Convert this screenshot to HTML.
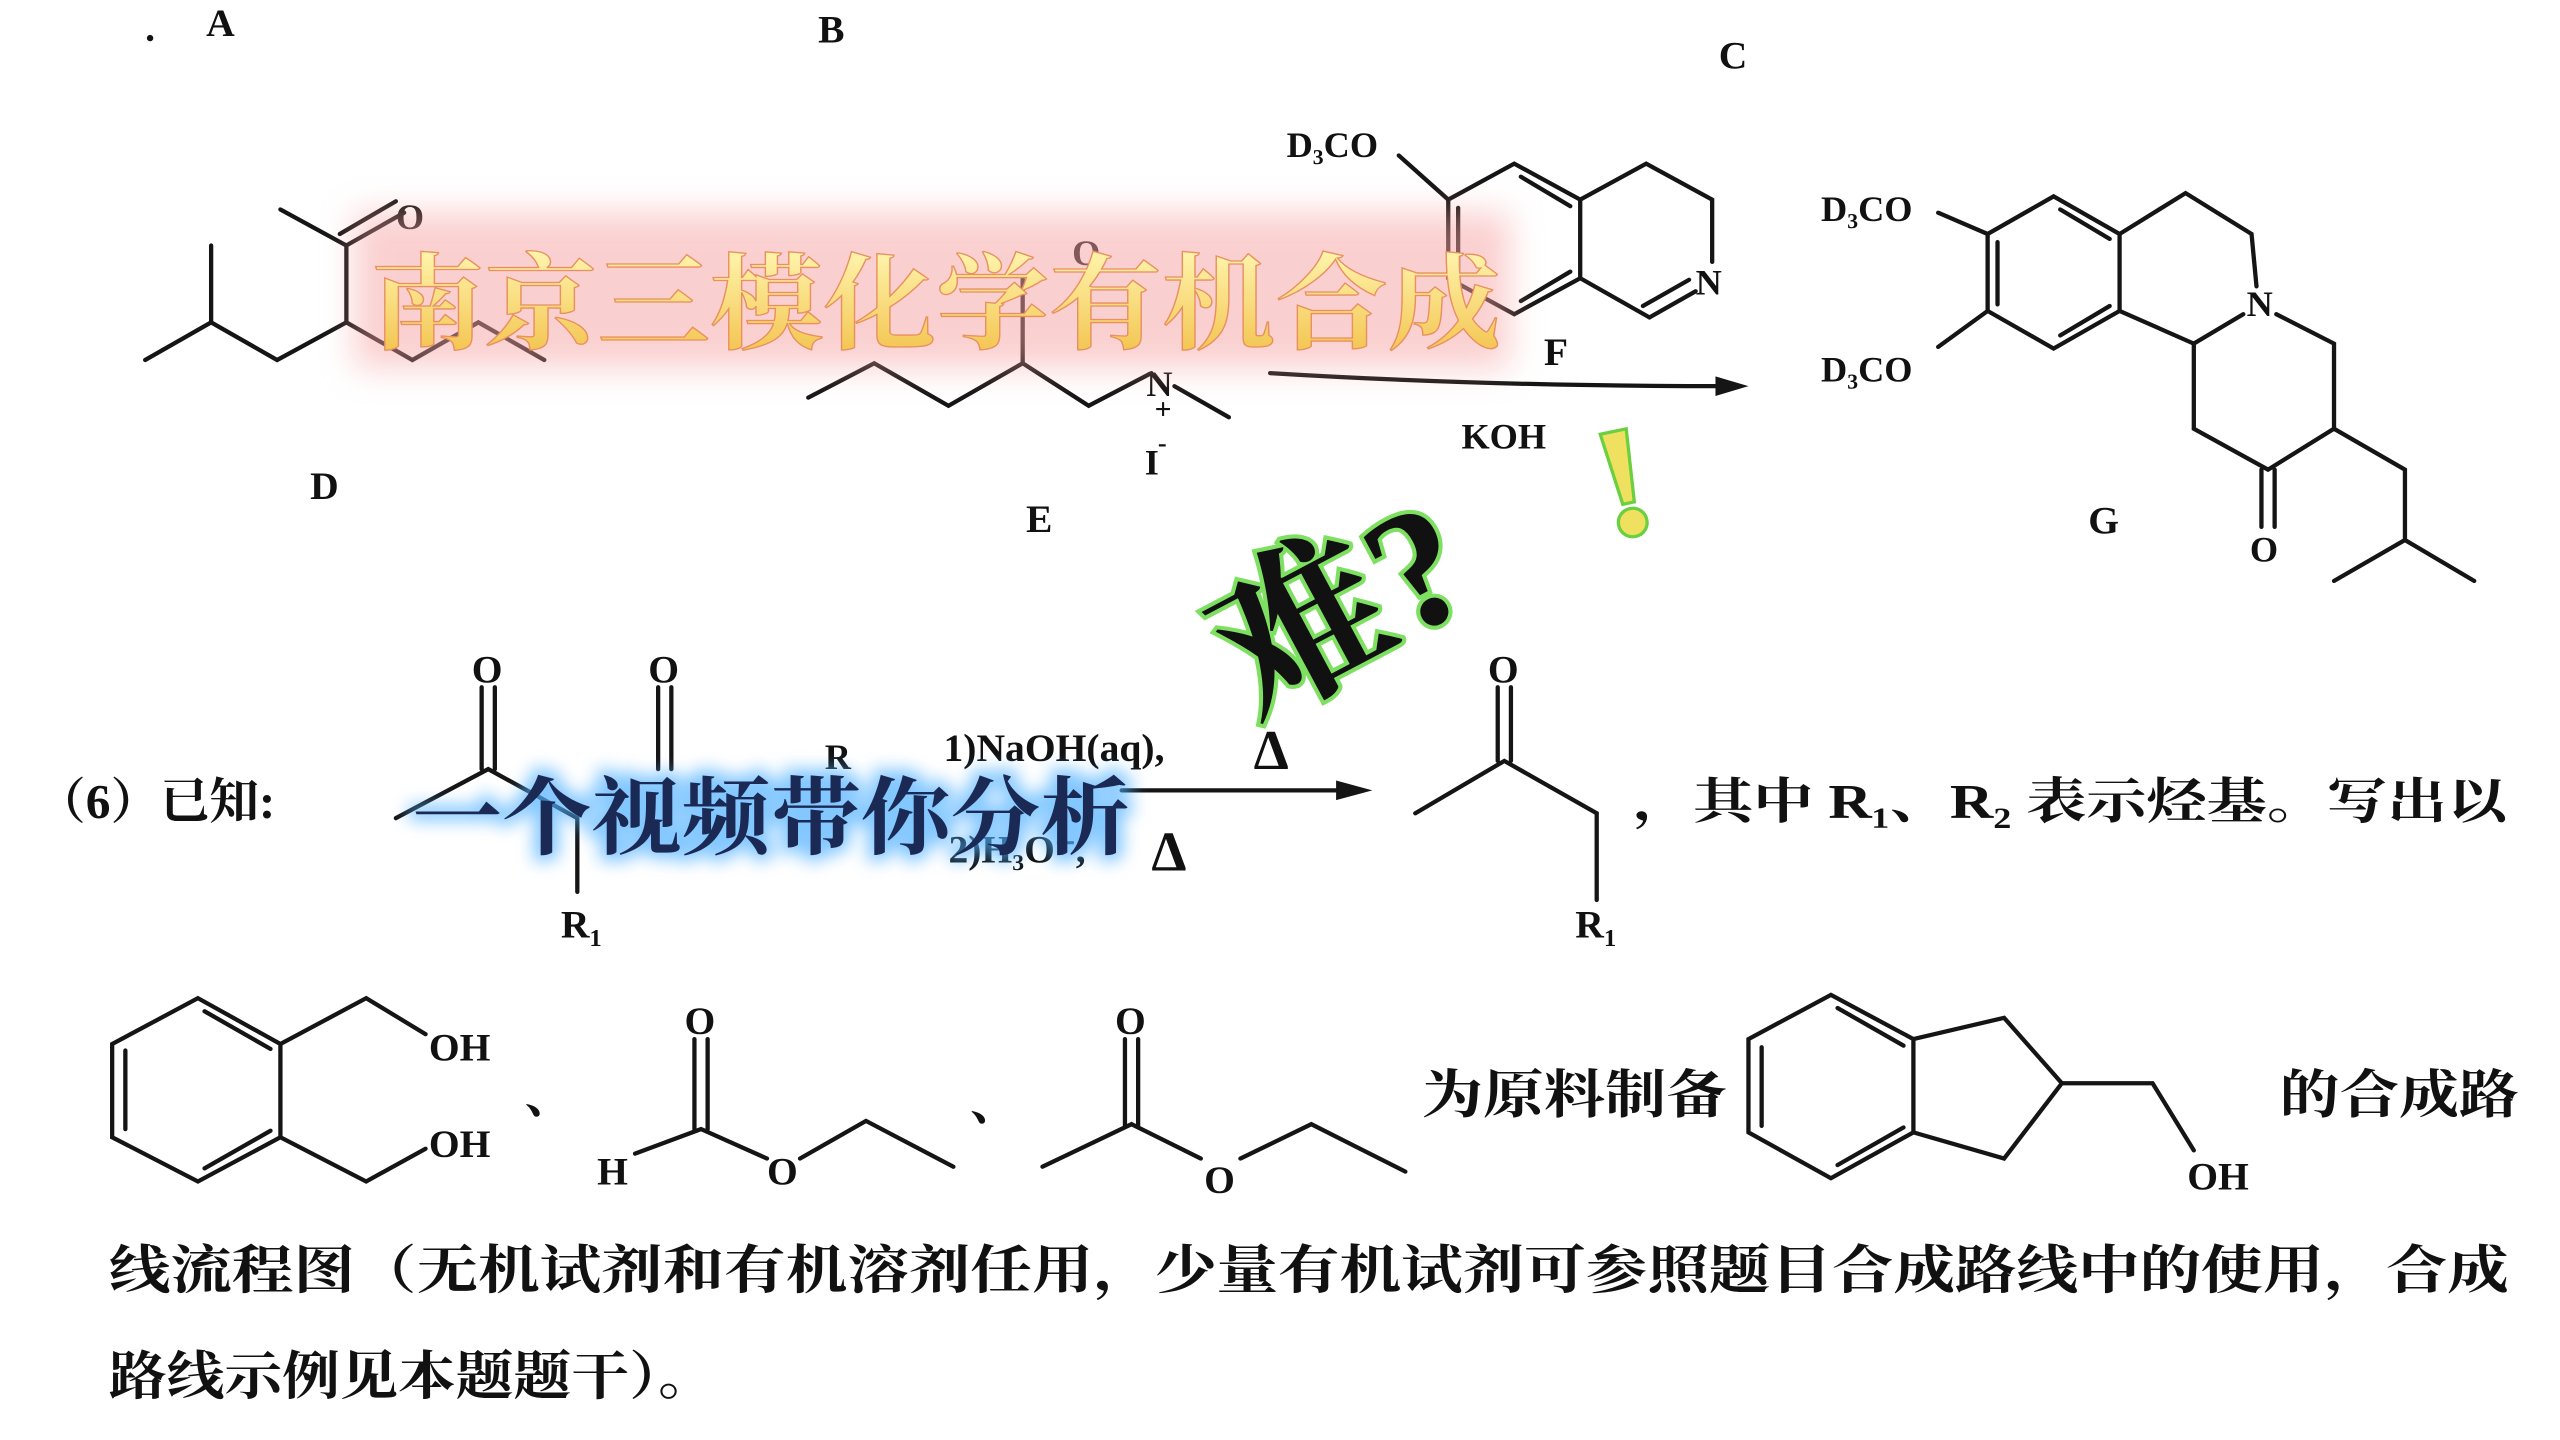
<!DOCTYPE html>
<html><head><meta charset="utf-8"><style>
html,body{margin:0;padding:0;background:#fff;width:2560px;height:1440px;overflow:hidden}
svg{display:block}
text{font-family:"Liberation Serif","Noto Serif CJK SC",serif;fill:#111}
.c{font-family:"Liberation Serif","Noto Serif CJK SC",serif;font-weight:bold}
</style></head><body>
<svg width="2560" height="1440" viewBox="0 0 1552 880" preserveAspectRatio="none" xmlns="http://www.w3.org/2000/svg">
<defs>
<filter id="blur" x="-20%" y="-50%" width="140%" height="200%"><feGaussianBlur stdDeviation="10"/></filter>
<filter id="blur2" x="-20%" y="-50%" width="140%" height="200%"><feGaussianBlur stdDeviation="5"/></filter>
<linearGradient id="yg" x1="0" y1="0" x2="0" y2="1"><stop offset="0" stop-color="#fff6b0"/><stop offset="1" stop-color="#f2c048"/></linearGradient>
</defs>
<g stroke="#151515" stroke-width="2.6" fill="none" stroke-linecap="round">
<polyline points="88,220 128,197 128,150"/>
<polyline points="128,197 168,220 210,197 210,150 170,128"/>
<line x1="210" y1="150" x2="245" y2="130"/><line x1="206" y1="143" x2="240" y2="123"/>
<polyline points="210,197 250,220 290,197 330,220"/>
<polyline points="490,243 530,222 575,248 620,222 660,248 698,228"/>
<line x1="620" y1="222" x2="620" y2="170"/>
<line x1="712" y1="236" x2="745" y2="255"/>
<path d="M770,228 Q900,236 1045,236"/>
<polygon points="878,122 918,100 958,122 958,170 918,192 878,170"/>
<line x1="884" y1="127" x2="884" y2="166"/><line x1="922" y1="108" x2="952" y2="126"/><line x1="922" y1="184" x2="952" y2="166"/>
<polyline points="848,95 878,122"/>
<polyline points="958,122 998,100 1038,122 1038,160"/>
<line x1="1028" y1="178" x2="1000" y2="194"/><line x1="1024" y1="171" x2="996" y2="187"/>
<line x1="1000" y1="194" x2="958" y2="170"/>
<polygon points="1205,143 1245,120 1285,143 1285,190 1245,213 1205,190"/>
<line x1="1211" y1="148" x2="1211" y2="186"/><line x1="1249" y1="128" x2="1279" y2="146"/><line x1="1249" y1="205" x2="1279" y2="187"/>
<line x1="1175" y1="130" x2="1205" y2="143"/><line x1="1175" y1="212" x2="1205" y2="190"/>
<polyline points="1285,143 1325,118 1365,143 1368,175"/>
<polyline points="1360,192 1330,210 1285,190"/>
<polyline points="1380,192 1415,210 1415,262 1375,287 1330,262 1330,210"/>
<line x1="1371" y1="287" x2="1371" y2="322"/><line x1="1379" y1="287" x2="1379" y2="322"/>
<polyline points="1415,262 1458,287 1458,330 1415,355"/><line x1="1458" y1="330" x2="1500" y2="355"/>
<line x1="292" y1="420" x2="292" y2="470"/><line x1="300" y1="420" x2="300" y2="470"/>
<polyline points="240,500 296,470 350,500 350,545"/>
<line x1="399" y1="420" x2="399" y2="470"/><line x1="407" y1="420" x2="407" y2="470"/>
<line x1="680" y1="483" x2="815" y2="483"/>
<line x1="908" y1="420" x2="908" y2="465"/><line x1="916" y1="420" x2="916" y2="465"/>
<polyline points="858,497 912,465 968,497 968,550"/>
<polygon points="120,610 170,638 170,695 120,722 68,695 68,638"/>
<line x1="76" y1="642" x2="76" y2="690"/><line x1="124" y1="618" x2="164" y2="641"/><line x1="124" y1="714" x2="164" y2="691"/>
<polyline points="170,638 222,610 258,632"/><polyline points="170,695 222,722 258,702"/>
<line x1="421" y1="635" x2="421" y2="690"/><line x1="429" y1="635" x2="429" y2="690"/>
<polyline points="385,705 425,690 465,708"/><polyline points="485,708 525,685 578,713"/>
<line x1="682" y1="635" x2="682" y2="688"/><line x1="690" y1="635" x2="690" y2="688"/>
<polyline points="632,713 686,687 728,708"/><polyline points="752,708 795,687 852,716"/>
<polygon points="1110,608 1160,635 1160,692 1110,720 1060,692 1060,635"/>
<line x1="1068" y1="640" x2="1068" y2="688"/><line x1="1114" y1="616" x2="1154" y2="639"/><line x1="1114" y1="712" x2="1154" y2="689"/>
<polyline points="1160,635 1215,622 1250,662 1215,708 1160,692"/>
<polyline points="1250,662 1305,662 1330,703"/>
</g>
<polygon points="1060,236 1040,230 1040,242" fill="#151515"/>
<polygon points="832,483 810,477 810,489" fill="#151515"/>
<g class="c" font-size="24">
<text x="88" y="25">.</text><text x="125" y="22">A</text><text x="496" y="26">B</text><text x="1042" y="42">C</text>
<text x="240" y="140" font-size="22">O</text>
<text x="188" y="305">D</text><text x="622" y="325">E</text>
<text x="650" y="162" font-size="22">O</text>
<text x="695" y="242" font-size="22">N</text><text x="700" y="256" font-size="18">+</text><text x="694" y="290" font-size="22">I</text><text x="702" y="276" font-size="16">-</text>
<text x="780" y="96" font-size="22">D₃CO</text><text x="1028" y="180" font-size="22">N</text>
<text x="936" y="223">F</text><text x="886" y="274" font-size="22">KOH</text>
<text x="1104" y="135" font-size="22">D₃CO</text><text x="1104" y="233" font-size="22">D₃CO</text>
<text x="1362" y="193" font-size="22">N</text><text x="1364" y="343" font-size="22">O</text>
<text x="1266" y="326">G</text>
</g>
<g class="c">
<text x="22" y="500" font-size="30">（6）已知:</text>
<text x="286" y="417" font-size="24">O</text><text x="393" y="417" font-size="24">O</text>
<text x="340" y="573" font-size="24">R<tspan font-size="15" dy="5">1</tspan></text>
<text x="500" y="470" font-size="22">R</text>
<text x="572" y="465" font-size="24">1)NaOH(aq),</text><text x="760" y="470" font-size="34">Δ</text>
<text x="575" y="527" font-size="24">2)H₃O⁺,</text><text x="698" y="532" font-size="34">Δ</text>
<text x="902" y="417" font-size="24">O</text>
<text x="955" y="573" font-size="24">R<tspan font-size="15" dy="5">1</tspan></text>
<text x="990" y="500" font-size="30" textLength="530" lengthAdjust="spacingAndGlyphs">，其中 R₁、R₂ 表示烃基。写出以</text>
<text x="260" y="648" font-size="24">OH</text><text x="260" y="707" font-size="24">OH</text>
<text x="318" y="680" font-size="30">、</text>
<text x="415" y="632" font-size="24">O</text><text x="362" y="724" font-size="24">H</text><text x="465" y="724" font-size="24">O</text>
<text x="588" y="684" font-size="30">、</text>
<text x="676" y="632" font-size="24">O</text><text x="730" y="729" font-size="24">O</text>
<text x="862" y="680" font-size="32" textLength="185" lengthAdjust="spacingAndGlyphs">为原料制备</text>
<text x="1326" y="727" font-size="24">OH</text>
<text x="1382" y="680" font-size="32" textLength="145" lengthAdjust="spacingAndGlyphs">的合成路</text>
<text x="66" y="787" font-size="32" textLength="1455" lengthAdjust="spacingAndGlyphs">线流程图（无机试剂和有机溶剂任用，少量有机试剂可参照题目合成路线中的使用，合成</text>
<text x="66" y="852" font-size="32" textLength="368" lengthAdjust="spacingAndGlyphs">路线示例见本题题干）。</text>
</g>
<rect x="215" y="130" width="700" height="95" style="fill:#f6a0a0" opacity="0.5" filter="url(#blur)"/>
<text x="225" y="208" font-family="Liberation Sans,Noto Sans CJK SC,sans-serif" font-weight="bold" font-size="64" textLength="685" lengthAdjust="spacingAndGlyphs" style="fill:url(#yg);stroke:#e89060;stroke-width:0.8">南京三模化学有机合成</text>
<text x="250" y="518" font-family="Liberation Sans,Noto Sans CJK SC,sans-serif" font-weight="bold" font-size="52" textLength="435" lengthAdjust="spacingAndGlyphs" style="fill:#4fb0ff;stroke:#4fb0ff;stroke-width:8" opacity="0.7" filter="url(#blur2)">一个视频带你分析</text>
<text x="250" y="518" font-family="Liberation Sans,Noto Sans CJK SC,sans-serif" font-weight="bold" font-size="52" textLength="435" lengthAdjust="spacingAndGlyphs" style="fill:#1a2a55">一个视频带你分析</text>
<g transform="translate(760,440) rotate(-28)">
<text x="0" y="0" font-family="Liberation Sans,Noto Sans CJK SC,sans-serif" font-weight="bold" font-size="105" style="fill:#111;stroke:#7ee060;stroke-width:5;paint-order:stroke">难?</text>
</g>
<text x="968" y="325" font-family="Liberation Sans,sans-serif" font-weight="bold" font-size="95" style="fill:#f0e060;stroke:#6ad040;stroke-width:4;paint-order:stroke" transform="rotate(-12 990 290)">!</text>
</svg>
</body></html>
